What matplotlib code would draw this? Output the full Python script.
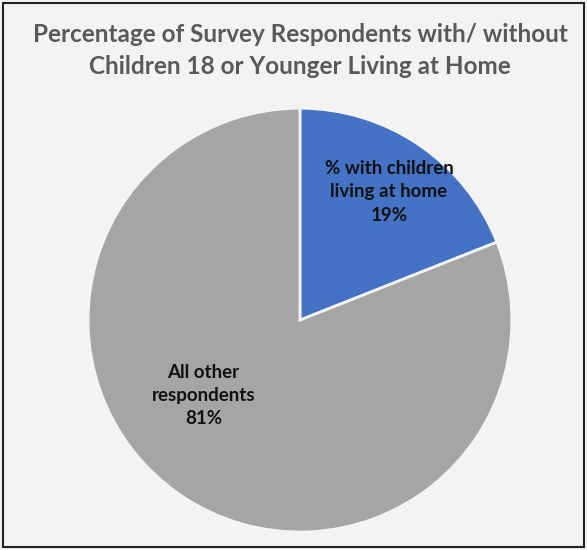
import matplotlib.pyplot as plt
from matplotlib.patches import Rectangle

labels = ['% with children\nliving at home', 'All other\nrespondents']
values = [19, 81]
colors = ['#4472C4', '#A5A5A5']
title = 'Percentage of Survey Respondents with/ without\nChildren 18 or Younger Living at Home'


def main():
    fig = plt.figure(figsize=(5.87, 5.5), dpi=100)
    fig.patch.set_facecolor('#F3F3F3')
    fig.patches.append(Rectangle((0.005, 0.005), 0.99, 0.99, transform=fig.transFigure,
                                 fill=False, edgecolor='#222222', linewidth=1.5))

    ax = fig.add_axes([0.511 - 0.361, 0.418 - 0.3855, 0.722, 0.771])
    wedges, texts = ax.pie(values, colors=colors, startangle=90, counterclock=False,
                           wedgeprops=dict(edgecolor='#F4F4F4', linewidth=2))
    ax.set_xlim(-1, 1)
    ax.set_ylim(-1, 1)
    ax.set_aspect('equal')
    ax.axis('off')

    pos = [(0.42, 0.605), (-0.455, -0.355)]
    for (lab, v), (x, y) in zip(zip(labels, values), pos):
        ax.text(x, y, f'{lab}\n{v}%', ha='center', va='center', fontsize=13.5,
                fontweight='bold', color='#111111', family='Lato', linespacing=1.45)

    fig.text(0.511, 0.908, title, ha='center', va='center', fontsize=17.5,
             fontweight='bold', color='#595959', family='Lato', linespacing=1.5)

    fig.savefig('out.png', dpi=100, facecolor=fig.get_facecolor())


if __name__ == "__main__":
    main()
